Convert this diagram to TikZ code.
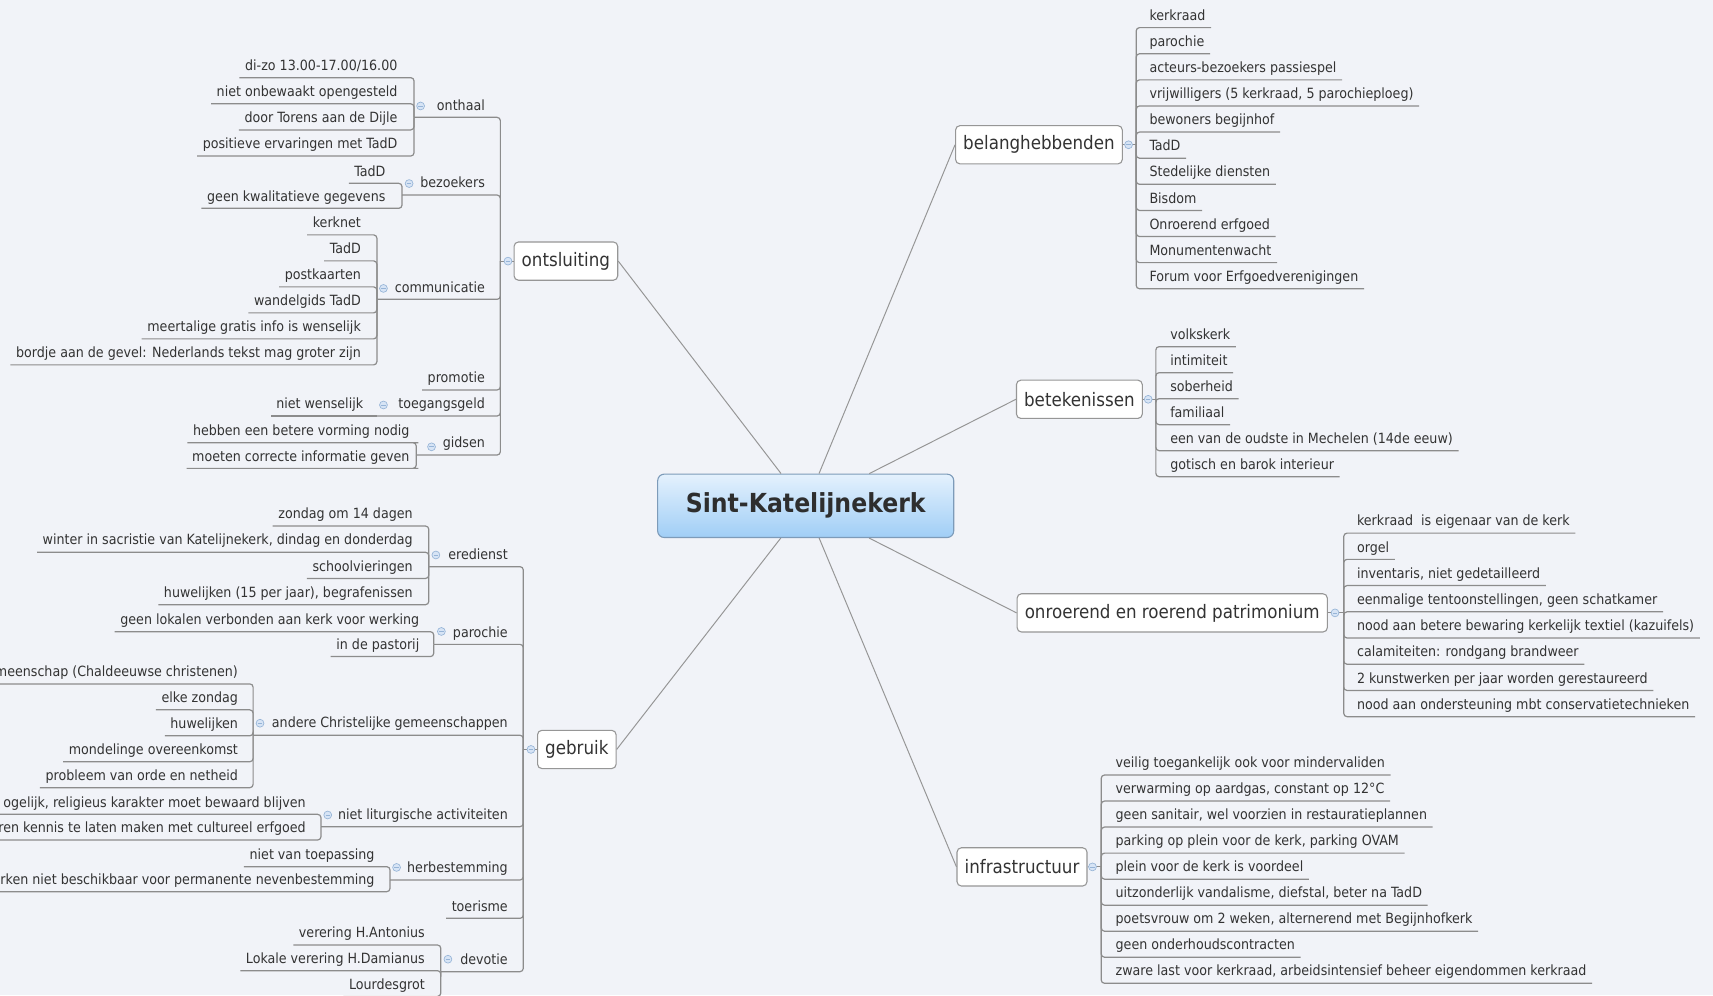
\documentclass[tikz,border=0pt]{standalone}
\usepackage{fontspec}
\setmainfont{DejaVu Sans Condensed}
\usepackage{tikz}
\definecolor{mapbg}{RGB}{241,243,248}
\definecolor{textcol}{RGB}{51,51,51}
\definecolor{linegray}{RGB}{140,140,140}
\definecolor{spokegray}{RGB}{150,150,150}
\definecolor{boxgray}{RGB}{150,150,150}
\definecolor{roottop}{RGB}{228,241,253}
\definecolor{rootbot}{RGB}{160,206,246}
\definecolor{rootedge}{RGB}{125,155,185}
\definecolor{iconfill}{RGB}{215,228,245}
\definecolor{iconedge}{RGB}{150,180,215}

\begin{document}
\begin{tikzpicture}[x=1pt, y=-1pt,
    root/.style={rectangle, rounded corners=6pt, draw=rootedge, line width=1pt,
                 top color=roottop, bottom color=rootbot, minimum width=271pt, minimum height=58pt,
                 font=\bfseries\fontsize{24}{28}\selectfont, text=textcol!90!black},
    topic/.style={rectangle, rounded corners=4pt, draw=boxgray, fill=white, line width=1pt,
                  minimum height=35pt, inner xsep=7pt, font=\fontsize{17}{20}\selectfont, text=textcol},
    lleaf/.style={anchor=south east, inner xsep=5pt, inner ysep=3.5pt, text height=9.5pt, text depth=3pt,
                  font=\fontsize{12.9}{15}\selectfont, text=textcol},
    rleaf/.style={lleaf, anchor=south west},
    conn/.style={draw=linegray, line width=1.1pt, rounded corners=3pt},
    spoke/.style={draw=spokegray, line width=0.9pt},
    toggle/.style={draw=iconedge, fill=iconfill, line width=0.6pt}
]
    \useasboundingbox (0,0) rectangle (1568,911);
    \clip (0,0) rectangle (1568,911);
    \fill[mapbg] (0,0) rectangle (1568,911);

    % centre and main topics
    \node[root] (kerk) at (737.5,463) {Sint-Katelijnekerk};
    \node[topic] (ontsl) at (518,239) {ontsluiting};
    \node[topic] (gebruik) at (528,686) {gebruik};
    \node[topic] (belang) at (951,132.5) {belanghebbenden};
    \node[topic] (betek) at (988,365.5) {betekenissen};
    \node[topic] (patri) at (1073,561) {onroerend en roerend patrimonium};
    \node[topic] (infra) at (935.5,793.5) {infrastructuur};

    \foreach \t in {ontsl,gebruik}
        \draw[spoke] (kerk) -- (\t.east);
    \foreach \t in {belang,betek,patri,infra}
        \draw[spoke] (kerk) -- (\t.west);

    % belanghebbenden
    \coordinate (belang-h) at (1040,132.5);
    \draw[conn] (belang.east) -- (belang-h);
    \foreach \t [count=\i] in {kerkraad, parochie, acteurs-bezoekers passiespel,
        {vrijwilligers (5 kerkraad, 5 parochieploeg)}, bewoners begijnhof, TadD,
        Stedelijke diensten, Bisdom, Onroerend erfgoed, Monumentenwacht,
        Forum voor Erfgoedverenigingen}{
        \node[rleaf] (bel\i) at (1047,{25.3+23.9*(\i-1)}) {\t};
        \draw[conn] (belang-h) |- (bel\i.south east);
    }

    % betekenissen
    \coordinate (betek-h) at (1058,365.5);
    \draw[conn] (betek.east) -- (betek-h);
    \foreach \t [count=\i] in {volkskerk, intimiteit, soberheid, familiaal,
        een van de oudste in Mechelen (14de eeuw), gotisch en barok interieur}{
        \node[rleaf] (bet\i) at (1066,{317.3+23.8*(\i-1)}) {\t};
        \draw[conn] (betek-h) |- (bet\i.south east);
    }

    % patrimonium
    \coordinate (patri-h) at (1230,561);
    \draw[conn] (patri.east) -- (patri-h);
    \foreach \t [count=\i] in {kerkraad~ is eigenaar van de kerk, orgel,
        {inventaris, niet gedetailleerd}, {eenmalige tentoonstellingen, geen schatkamer},
        nood aan betere bewaring kerkelijk textiel (kazuifels),
        calamiteiten: rondgang brandweer, 2 kunstwerken per jaar worden gerestaureerd,
        nood aan ondersteuning mbt conservatietechnieken}{
        \node[rleaf] (pat\i) at (1237,{488+24*(\i-1)}) {\t};
        \draw[conn] (patri-h) |- (pat\i.south east);
    }

    % infrastructuur
    \coordinate (infra-h) at (1008,793.5);
    \draw[conn] (infra.east) -- (infra-h);
    \foreach \t [count=\i] in {veilig toegankelijk ook voor mindervaliden,
        {verwarming op aardgas, constant op 12°C},
        {geen sanitair, wel voorzien in restauratieplannen},
        {parking op plein voor de kerk, parking OVAM}, plein voor de kerk is voordeel,
        {uitzonderlijk vandalisme, diefstal, beter na TadD},
        {poetsvrouw om 2 weken, alternerend met Begijnhofkerk}, geen onderhoudscontracten,
        {zware last voor kerkraad, arbeidsintensief beheer eigendommen kerkraad}}{
        \node[rleaf] (inf\i) at (1016,{709.4+23.83*(\i-1)}) {\t};
        \draw[conn] (infra-h) |- (inf\i.south east);
    }

    % ontsluiting
    \coordinate (ontsl-h) at (458,239);
    \draw[conn] (ontsl.west) -- (ontsl-h);
    \node[lleaf] (onthaal) at (449,107.4) {onthaal};
    \node[lleaf] (bezoek) at (449,178.5) {bezoekers};
    \node[lleaf] (commu) at (449,274) {communicatie};
    \node[lleaf] (promo) at (449,357) {promotie};
    \node[lleaf] (toeg) at (449,380.8) {toegangsgeld};
    \node[lleaf] (gidsen) at (449,416.5) {gidsen};
    \coordinate (onthaal-h) at (379,107.4);
    \coordinate (bezoek-h) at (368,178.5);
    \coordinate (commu-h) at (345,274);
    \coordinate (toeg-h) at (345,380.8);
    \coordinate (gidsen-h) at (381,416.5);
    \foreach \c in {onthaal-h,bezoek-h,commu-h,toeg-h,gidsen-h}
        \draw[conn] (ontsl-h) |- (\c);
    \draw[conn] (ontsl-h) |- (promo.south west);

    \foreach \t [count=\i] in {{di-zo 13.00-17.00/16.00}, niet onbewaakt opengesteld,
        door Torens aan de Dijle, positieve ervaringen met TadD}{
        \node[lleaf] (onth\i) at (369,{71.1+23.9*(\i-1)}) {\t};
        \draw[conn] (onthaal-h) |- (onth\i.south east) -- (onth\i.south west);
    }
    \node[lleaf] (bez1) at (358,167.8) {TadD};
    \node[lleaf] (bez2) at (358,190.7) {geen kwalitatieve gegevens};
    \foreach \n in {bez1,bez2}
        \draw[conn] (bezoek-h) |- (\n.south east) -- (\n.south west);
    \foreach \t [count=\i] in {kerknet, TadD, postkaarten, wandelgids TadD,
        meertalige gratis info is wenselijk,
        {bordje aan de gevel: Nederlands tekst mag groter zijn}}{
        \node[lleaf] (com\i) at (335.5,{215+23.8*(\i-1)}) {\t};
        \draw[conn] (commu-h) |- (com\i.south east) -- (com\i.south west);
    }
    \node[lleaf] (nietw) at (337.6,380.8) {niet wenselijk};
    \draw[conn] (toeg-h) -- (nietw.south east) -- (nietw.south west);
    \node[lleaf] (gid1) at (380,405.2) {hebben een betere vorming nodig};
    \node[lleaf] (gid2) at (380,428.7) {moeten correcte informatie geven};
    \foreach \n in {gid1,gid2}
        \draw[conn] (gidsen-h) |- (\n.south east) -- (\n.south west);

    % gebruik
    \coordinate (gebruik-h) at (479,686);
    \draw[conn] (gebruik.west) -- (gebruik-h);
    \node[lleaf] (ered) at (470,518.7) {eredienst};
    \node[lleaf] (paro) at (470,589.8) {parochie};
    \node[lleaf] (andere) at (470,673) {andere Christelijke gemeenschappen};
    \node[lleaf] (nietlit) at (470,756.7) {niet liturgische activiteiten};
    \node[lleaf] (herbest) at (470,805.5) {herbestemming};
    \node[lleaf] (toeris) at (470,840.6) {toerisme};
    \node[lleaf] (devotie) at (470,889.4) {devotie};
    \coordinate (ered-h) at (392.5,518.7);
    \coordinate (paro-h) at (397,589.8);
    \coordinate (andere-h) at (231.7,673);
    \coordinate (nietlit-h) at (293.8,756.7);
    \coordinate (herbest-h) at (357,805.5);
    \coordinate (devotie-h) at (403.5,889.4);
    \foreach \c in {ered-h,paro-h,andere-h,nietlit-h,herbest-h,devotie-h}
        \draw[conn] (gebruik-h) |- (\c);
    \draw[conn] (gebruik-h) |- (toeris.south west);

    \foreach \t [count=\i] in {zondag om 14 dagen,
        {winter in sacristie van Katelijnekerk, dindag en donderdag}, schoolvieringen,
        {huwelijken (15 per jaar), begrafenissen}}{
        \node[lleaf] (ere\i) at (383,{481.5+24*(\i-1)}) {\t};
        \draw[conn] (ered-h) |- (ere\i.south east) -- (ere\i.south west);
    }
    \node[lleaf] (par1) at (389,578.2) {geen lokalen verbonden aan kerk voor werking};
    \node[lleaf] (par2) at (389,601) {in de pastorij};
    \foreach \n in {par1,par2}
        \draw[conn] (paro-h) |- (\n.south east) -- (\n.south west);
    \foreach \t [count=\i] in {meenschap (Chaldeeuwse christenen), elke zondag, huwelijken,
        mondelinge overeenkomst, probleem van orde en netheid}{
        \node[lleaf] (and\i) at (223,{626+23.75*(\i-1)}) {\t};
        \draw[conn] (andere-h) |- (and\i.south east) -- (and\i.south west);
    }
    \node[lleaf] (lit1) at (285,745.4) {ogelijk, religieus karakter moet bewaard blijven};
    \node[lleaf] (lit2) at (285,768.9) {ren kennis te laten maken met cultureel erfgoed};
    \foreach \n in {lit1,lit2}
        \draw[conn] (nietlit-h) |- (\n.south east) -- (\n.south west);
    \node[lleaf] (her1) at (348,793.3) {niet van toepassing};
    \node[lleaf] (her2) at (348,816.2) {rken niet beschikbaar voor permanente nevenbestemming};
    \foreach \n in {her1,her2}
        \draw[conn] (herbest-h) |- (\n.south east) -- (\n.south west);
    \foreach \t [count=\i] in {verering H.Antonius, Lokale verering H.Damianus, Lourdesgrot}{
        \node[lleaf] (dev\i) at (394,{865+23.5*(\i-1)}) {\t};
        \draw[conn] (devotie-h) |- (dev\i.south east) -- (dev\i.south west);
    }

    % collapse toggles
    \foreach \x/\y in {465/239, 385/97, 374.5/168, 351/264, 351/370.7, 395/409,
        486/686, 399/508, 404/578, 238/662, 300/746, 363/794, 410/878,
        1033/132.5, 1051/365.5, 1222/561, 1000/793.5}{
        \draw[toggle] (\x,\y) circle (3.6pt);
        \draw[iconedge, line width=0.7pt] (\x-2,\y) -- (\x+2,\y);
    }
\end{tikzpicture}
\end{document}
